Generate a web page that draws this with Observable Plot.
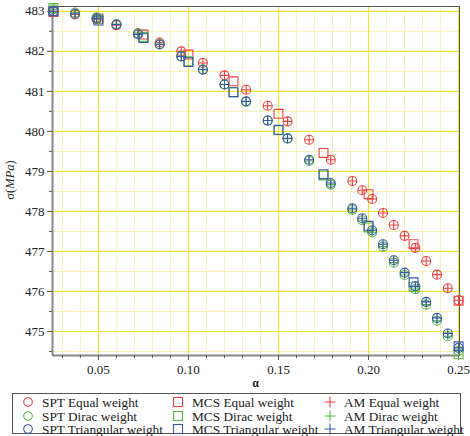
<!DOCTYPE html>
<html><head><meta charset="utf-8">
<script src="https://cdn.jsdelivr.net/npm/d3@7"></script>
<script src="https://cdn.jsdelivr.net/npm/@observablehq/plot@0.6"></script>
<style>
body{margin:0;background:#fff;font-family:"Liberation Serif","DejaVu Serif",serif;}
#wrap{position:relative;width:470px;height:436px;}
#legend{position:absolute;left:12px;top:393px;width:449px;height:41px;border:1px solid #555;box-sizing:border-box;}
.item{position:absolute;font-size:13.3px;line-height:13px;color:#222;white-space:nowrap;}
.item svg{position:absolute;left:-20px;top:0px;}
svg text{font-family:"Liberation Serif","DejaVu Serif",serif !important;}
</style></head><body><div id="wrap"><div id="chart"></div><div id="legend"></div></div>
<script>
// α values for SPT / AM
const alphaSPT = [0.025,0.037,0.049,0.060,0.072,0.084,0.096,0.108,0.120,0.132,0.144,0.155,0.167,0.179,0.191,0.1965,0.202,0.208,0.214,0.220,0.226,0.232,0.238,0.244,0.250];
const sptEqual = [483.00,482.92,482.80,482.65,482.45,482.22,482.00,481.71,481.40,481.04,480.64,480.25,479.79,479.29,478.76,478.53,478.31,477.96,477.66,477.39,477.09,476.76,476.42,476.08,475.78];
const sptDirac = [483.05,482.97,482.85,482.68,482.45,482.18,481.88,481.55,481.17,480.74,480.27,479.82,479.26,478.67,478.04,477.78,477.48,477.12,476.72,476.41,476.06,475.67,475.27,474.88,474.52];
const sptTri   = [483.00,482.94,482.82,482.67,482.42,482.17,481.87,481.54,481.17,480.75,480.27,479.83,479.29,478.71,478.08,477.83,477.53,477.18,476.78,476.47,476.13,475.74,475.34,474.95,474.59];
const amEqual  = [483.00,482.92,482.80,482.65,482.45,482.22,482.00,481.71,481.40,481.04,480.64,480.25,479.79,479.29,478.76,478.53,478.31,477.96,477.66,477.39,477.09,476.76,476.42,476.08,475.78];
const amDirac  = [483.05,482.97,482.85,482.68,482.45,482.18,481.88,481.55,481.17,480.74,480.27,479.82,479.26,478.67,478.04,477.78,477.48,477.12,476.72,476.41,476.06,475.67,475.27,474.88,474.52];
const amTri    = [483.00,482.94,482.82,482.67,482.42,482.17,481.87,481.54,481.17,480.75,480.27,479.83,479.29,478.71,478.08,477.83,477.53,477.18,476.78,476.47,476.13,475.74,475.34,474.95,474.59];
// α values for MCS
const alphaMCS = [0.025,0.05,0.075,0.10,0.125,0.15,0.175,0.20,0.225,0.25];
const mcsEqual = [482.98,482.82,482.42,481.92,481.25,480.44,479.46,478.43,477.18,475.77];
const mcsDirac = [483.08,482.80,482.36,481.75,480.98,480.03,478.90,477.60,476.12,474.43];
const mcsTri   = [483.00,482.77,482.33,481.73,480.98,480.04,478.93,477.64,476.23,474.63];
// ticks
const xMajor = [0.05,0.10,0.15,0.20,0.25];
const xMinor = [0.03,0.04,0.06,0.07,0.08,0.09,0.11,0.12,0.13,0.14,0.16,0.17,0.18,0.19,0.21,0.22,0.23,0.24];
const yMajor = [475,476,477,478,479,480,481,482,483];
const yMinor = [474.5,475.5,476.5,477.5,478.5,479.5,480.5,481.5,482.5];

const cRed="#ef4040", cGreen="#56b845", cBlue="#3b58a6";
const legendLabels = [
  ["SPT Equal weight","MCS Equal weight","AM Equal weight"],
  ["SPT Dirac weight","MCS Dirac weight","AM Dirac weight"],
  ["SPT Triangular weight","MCS Triangular weight","AM Triangular weight"]
];
const rowColors=[cRed,cGreen,cBlue];

const plusSym = {draw(ctx,size){const r=Math.sqrt(size/Math.PI);ctx.moveTo(-r,0);ctx.lineTo(r,0);ctx.moveTo(0,-r);ctx.lineTo(0,r);}};
const tbl=(xs,ys)=>xs.map((x,i)=>({x,y:ys[i]}));

const groups=[
  [sptEqual,mcsEqual,amEqual,cRed],
  [sptDirac,mcsDirac,amDirac,cGreen],
  [sptTri,mcsTri,amTri,cBlue]
];
const dataMarks=[];
for(const [spt,mcs,am,c] of groups){
  dataMarks.push(Plot.dot(tbl(alphaSPT,spt),{x:"x",y:"y",r:4.5,symbol:"circle",fill:"none",stroke:c,strokeWidth:1.1}));
  dataMarks.push(Plot.dot(tbl(alphaMCS,mcs),{x:"x",y:"y",r:5,symbol:"square",fill:"none",stroke:c,strokeWidth:1.1}));
  dataMarks.push(Plot.dot(tbl(alphaSPT,am),{x:"x",y:"y",r:4.5,symbol:plusSym,fill:"none",stroke:c,strokeWidth:1.1}));
}

const serif='"Liberation Serif", "DejaVu Serif", serif';
const svg = Plot.plot({
  width:470,height:390,marginLeft:52,marginRight:11,marginTop:6,marginBottom:35,
  style:{fontFamily:serif,fontSize:"13px",color:"#222",background:"white"},
  x:{domain:[0.0245,0.2505],label:null},
  y:{domain:[474.4,483.12],label:null},
  marks:[
    Plot.ruleX(xMinor,{stroke:"#f8f1b8",strokeWidth:1}),
    Plot.ruleY(yMinor,{stroke:"#f8f1b8",strokeWidth:1}),
    Plot.ruleX(xMajor,{stroke:"#f1e435",strokeWidth:1.2}),
    Plot.ruleY(yMajor,{stroke:"#f1e435",strokeWidth:1.2}),
    Plot.frame({stroke:"#555",strokeWidth:1}),
    Plot.ruleX([0.0245],{stroke:"#888",strokeWidth:2}),
    Plot.ruleY([474.4],{stroke:"#888",strokeWidth:2}),
    Plot.axisX(xMinor,{tickSize:3,tickFormat:()=>"",stroke:"#555"}),
    Plot.axisX(xMajor,{tickSize:5,tickPadding:4,tickFormat:d=>d.toFixed(2),stroke:"#555",fill:"#222",fontSize:13,label:null}),
    Plot.axisY(yMinor,{tickSize:3,tickFormat:()=>"",stroke:"#555"}),
    Plot.axisY(yMajor,{tickSize:5,tickPadding:3,tickFormat:d=>String(d),stroke:"#555",fill:"#222",fontSize:13,label:null}),
    ...dataMarks
  ]
});
document.getElementById("chart").appendChild(svg);
const s=d3.select(svg);
s.attr("font-family",serif);
s.selectAll("g").attr("font-family",serif);
const yl=s.append("text").attr("transform","translate(14,180) rotate(-90)").attr("text-anchor","middle")
  .attr("font-size",12.5).attr("font-family",serif).attr("fill","#222");
yl.append("tspan").text("σ(");
yl.append("tspan").attr("font-style","italic").text("MPa");
yl.append("tspan").text(")");
s.append("text").attr("x",255.5).attr("y",387).attr("text-anchor","middle").attr("font-family",serif).attr("font-size",12).attr("font-weight","bold").attr("fill","#222").text("α");

// legend
const lg=document.getElementById("legend");
const colX=[29,179,331], rowY=[2,15.5,29];
const shapes=[
  c=>`<circle cx="6" cy="6" r="4.3" fill="none" stroke="${c}" stroke-width="1.1"/>`,
  c=>`<rect x="1.5" y="1.5" width="9" height="9" fill="none" stroke="${c}" stroke-width="1.1"/>`,
  c=>`<path d="M0.5,6H11.5M6,0.5V11.5" stroke="${c}" stroke-width="1.1"/>`
];
legendLabels.forEach((row,ri)=>row.forEach((lab,ci)=>{
  const d=document.createElement("div");d.className="item";
  d.style.left=colX[ci]+"px";d.style.top=rowY[ri]+"px";
  d.innerHTML=`<svg width="12" height="12">${shapes[ci](rowColors[ri])}</svg>`;
  d.appendChild(document.createTextNode(lab));
  lg.appendChild(d);
}));
</script>
</body></html>
